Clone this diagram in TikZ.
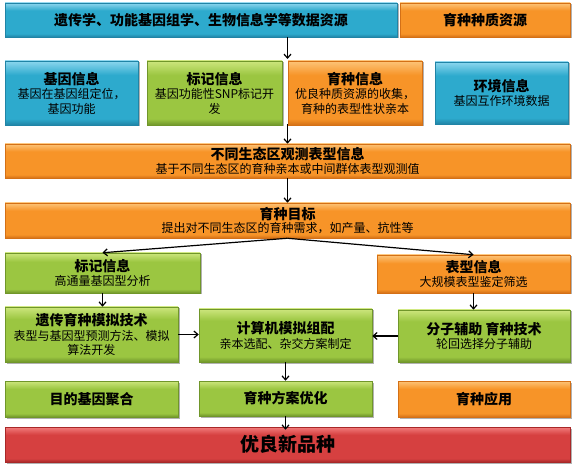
\documentclass[tikz,border=0pt]{standalone}
\usepackage{fontspec}
\setmainfont{Noto Sans CJK SC}
\usetikzlibrary{shadows,arrows.meta}
\definecolor{blueL}{RGB}{140,214,238}
\definecolor{blueB}{RGB}{45,170,205}
\definecolor{blueD}{RGB}{32,132,166}
\definecolor{greenL}{RGB}{205,230,125}
\definecolor{greenB}{RGB}{155,198,65}
\definecolor{greenD}{RGB}{112,150,42}
\definecolor{orangeL}{RGB}{253,196,120}
\definecolor{orangeB}{RGB}{247,148,40}
\definecolor{orangeD}{RGB}{212,112,22}
\definecolor{redL}{RGB}{242,125,125}
\definecolor{redB}{RGB}{214,64,64}
\definecolor{redD}{RGB}{168,40,40}
\pgfdeclareverticalshading{blueshade}{100bp}{color(0bp)=(blueD); color(25bp)=(blueD); color(30bp)=(blueB); color(64bp)=(blueB); color(75bp)=(blueL); color(100bp)=(blueL)}
\pgfdeclareverticalshading{greenshade}{100bp}{color(0bp)=(greenD); color(25bp)=(greenD); color(30bp)=(greenB); color(64bp)=(greenB); color(75bp)=(greenL); color(100bp)=(greenL)}
\pgfdeclareverticalshading{orangeshade}{100bp}{color(0bp)=(orangeD); color(25bp)=(orangeD); color(30bp)=(orangeB); color(64bp)=(orangeB); color(75bp)=(orangeL); color(100bp)=(orangeL)}
\pgfdeclareverticalshading{redshade}{100bp}{color(0bp)=(redD); color(25bp)=(redD); color(30bp)=(redB); color(64bp)=(redB); color(75bp)=(redL); color(100bp)=(redL)}
\newcommand{\ttl}[1]{{\fontsize{14}{16}\selectfont\bfseries #1}}
\tikzset{
  box/.style={shade, shading=#1shade, draw=#1D, line width=0.5pt,
    drop shadow={shadow xshift=1.5pt, shadow yshift=-1.5pt, fill=black, opacity=0.3},
    align=center, inner sep=1pt, text=black,
    font=\fontsize{12}{14.5}\selectfont},
  arr/.style={line width=1.2pt, draw=black, -{Straight Barb[length=4pt,width=7pt]}}
}
\begin{document}
\begin{tikzpicture}[x=1pt,y=1pt]
\useasboundingbox (0,0) rectangle (576,-465);
% row 1
\node[box=blue, minimum width=392pt, minimum height=34pt] (src) at (201,-20) {\ttl{遗传学、功能基因组学、生物信息学等数据资源}};
\node[box=orange, minimum width=170pt, minimum height=34pt] (germ) at (485,-20) {\ttl{育种种质资源}};
% row 2
\node[box=blue, minimum width=133pt, minimum height=64pt] (gene) at (71.5,-93) {\ttl{基因信息}\\基因在基因组定位，\\基因功能};
\node[box=green, minimum width=135pt, minimum height=64pt] (mark1) at (214.5,-93) {\ttl{标记信息}\\基因功能性SNP标记开\\发};
\node[box=orange, minimum width=134pt, minimum height=64pt] (breed) at (355,-93) {\ttl{育种信息}\\优良种质资源的收集，\\育种的表型性状亲本};
\node[box=blue, minimum width=133pt, minimum height=62pt] (env) at (501.5,-93) {\ttl{环境信息}\\基因互作环境数据};
% rows 3-4
\node[box=orange, minimum width=565pt, minimum height=34pt] (obs) at (287.5,-161) {\ttl{不同生态区观测表型信息}\\[-1pt]基于不同生态区的育种亲本或中间群体表型观测值};
\node[box=orange, minimum width=565pt, minimum height=35pt] (goal) at (287.5,-220.5) {\ttl{育种目标}\\[-1pt]提出对不同生态区的育种需求，如产量、抗性等};
% row 5
\node[box=green, minimum width=195pt, minimum height=40pt] (mark2) at (102.5,-273) {\ttl{标记信息}\\高通量基因型分析};
\node[box=orange, minimum width=193pt, minimum height=38pt] (pheno) at (473.5,-274) {\ttl{表型信息}\\大规模表型鉴定筛选};
% row 6
\node[box=green, minimum width=173pt, minimum height=55pt] (sim) at (91.5,-334.5) {\ttl{遗传育种模拟技术}\\表型与基因型预测方法、模拟\\算法开发};
\node[box=green, minimum width=173pt, minimum height=53pt] (comp) at (285.5,-335.5) {\ttl{计算机模拟组配}\\亲本选配、杂交方案制定};
\node[box=green, minimum width=172pt, minimum height=52pt] (mas) at (484,-336) {\ttl{分子辅助 育种技术}\\轮回选择分子辅助};
% row 7
\node[box=green, minimum width=173pt, minimum height=36pt] (gen) at (91.5,-399) {\ttl{目的基因聚合}};
\node[box=green, minimum width=173pt, minimum height=35pt] (opt) at (285.5,-398.5) {\ttl{育种方案优化}};
\node[box=orange, minimum width=172pt, minimum height=36pt] (app) at (484,-399) {\ttl{育种应用}};
% row 8
\node[box=red, minimum width=565pt, minimum height=35pt] (new) at (287.5,-444.5) {{\fontsize{19}{21}\selectfont\bfseries 优良新品种}};
% connectors
\coordinate (c1) at (287.5,-59);
\coordinate (c2) at (287.5,-124);
\draw[arr] (src.south -| obs.north) -- (c1);
\draw[arr] (c2) -- (obs.north);
\draw[arr] (obs.south) -- (goal.north);
\draw[arr] (goal.south) -- (mark2.north);
\draw[arr] (goal.south) -- (pheno.north);
\draw[arr] (mark2.south) -- (mark2.south |- sim.north);
\draw[arr] (pheno.south) -- (pheno.south |- mas.north);
\draw[arr] (sim.east) -- (sim.east -| comp.west);
\draw[arr] (mas.west) -- (mas.west -| comp.east);
\draw[arr] (comp.south) -- (opt.north);
\draw[arr] (opt.south) -- ([yshift=-3pt]opt.south |- new.north);
\end{tikzpicture}
\end{document}
